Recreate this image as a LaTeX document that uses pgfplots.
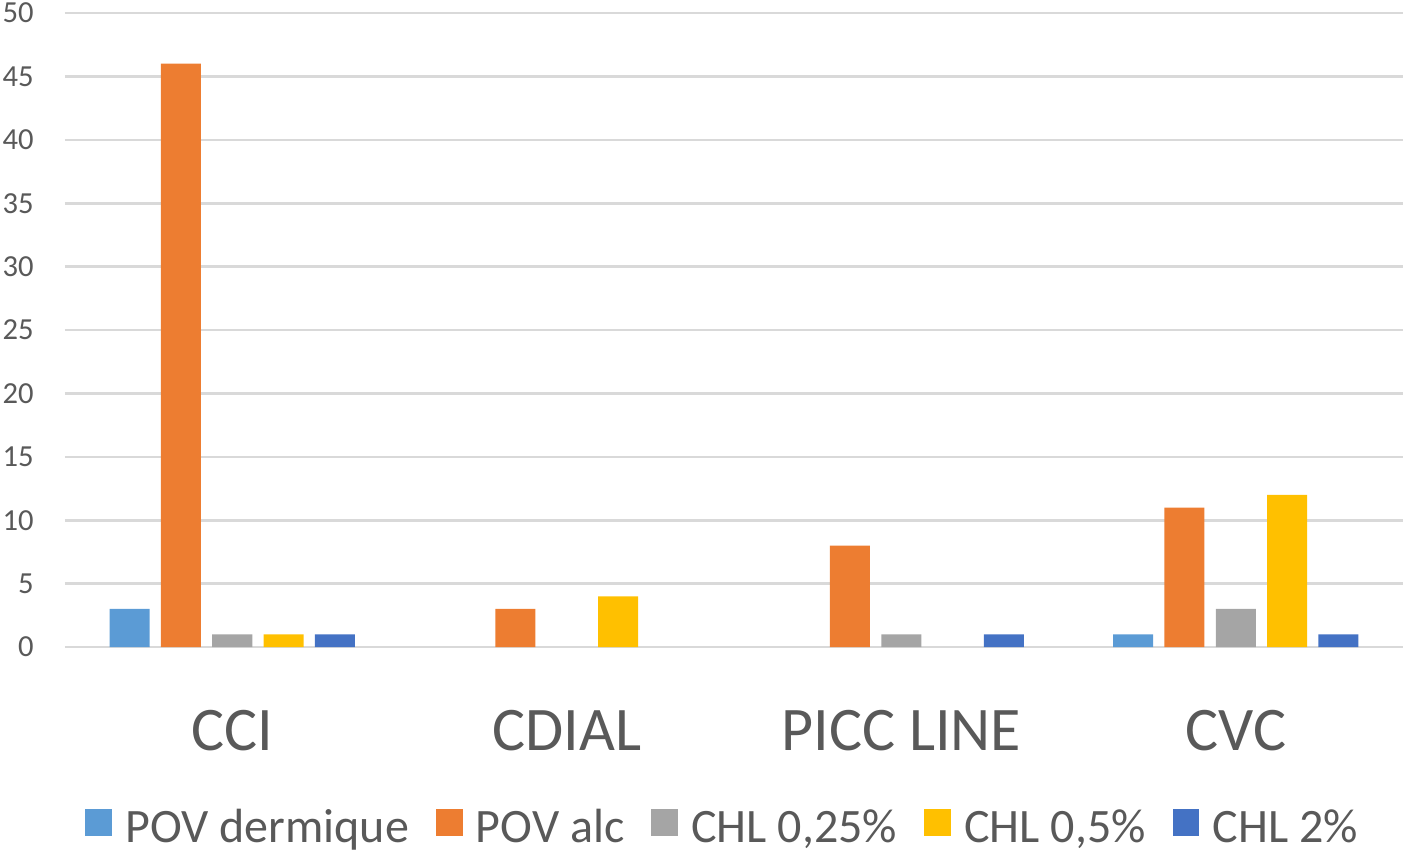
\documentclass[border=0pt]{standalone}
\usepackage{fontspec}
\setmainfont{Carlito}
\usepackage{pgfplots}
\pgfplotsset{compat=1.18}
\definecolor{c1}{HTML}{5B9BD5}
\definecolor{c2}{HTML}{ED7D31}
\definecolor{c3}{HTML}{A5A5A5}
\definecolor{c4}{HTML}{FFC000}
\definecolor{c5}{HTML}{4472C4}
\definecolor{txt}{HTML}{595959}
\definecolor{grd}{HTML}{D9D9D9}
\newcommand\ls{\rule[-5pt]{0pt}{22pt}}
\begin{document}
\begin{tikzpicture}
\path[use as bounding box] (-32.5pt,-102pt) rectangle (671pt,323.5pt);
\begin{axis}[
  at={(0,0)}, anchor=south west,
  scale only axis,
  width=669pt, height=317pt,
  ybar=5.65pt, bar width=20pt,
  xmin=-0.5, xmax=3.5,
  ymin=0, ymax=50,
  ytick={0,5,...,50},
  xtick={0,1,2,3},
  xticklabels={CCI,CDIAL,PICC LINE,CVC},
  major tick length=0pt,
  axis line style={draw=none},
  ymajorgrids,
  major grid style={draw=grd, line width=1.3pt},
  /pgf/number format/assume math mode=true,
  yticklabel style={font=\fontsize{15.3}{18}\selectfont, text=txt, anchor=east, inner sep=0pt, xshift=-15.5pt},
  xticklabel style={font=\fontsize{31}{36}\selectfont, text=txt, anchor=base, inner sep=0pt, yshift=-51.5pt},
  legend columns=5,
  legend style={at={(-3.5pt,-90pt)}, anchor=west, draw=none, fill=none, inner sep=0pt,
    column sep=0pt, nodes={inner sep=0pt},
    font=\fontsize{24}{28}\selectfont, text=txt},
  legend image code/.code={\path[fill=none,draw=none] (0,0) -- (33.5pt,0); \fill[#1,draw=none] (13.5pt,-4.35pt) rectangle (26.8pt,9pt);},
]
\addplot[fill=c1, draw=none] coordinates {(0,3) (3,1)};
\addplot[fill=c2, draw=none] coordinates {(0,46) (1,3) (2,8) (3,11)};
\addplot[fill=c3, draw=none] coordinates {(0,1) (2,1) (3,3)};
\addplot[fill=c4, draw=none] coordinates {(0,1) (1,4) (3,12)};
\addplot[fill=c5, draw=none] coordinates {(0,1) (2,1) (3,1)};
\legend{\ls POV dermique, \ls POV alc, {\ls CHL 0,25\%}, {\ls CHL 0,5\%}, {\ls CHL 2\%}}
\end{axis}
\end{tikzpicture}
\end{document}
